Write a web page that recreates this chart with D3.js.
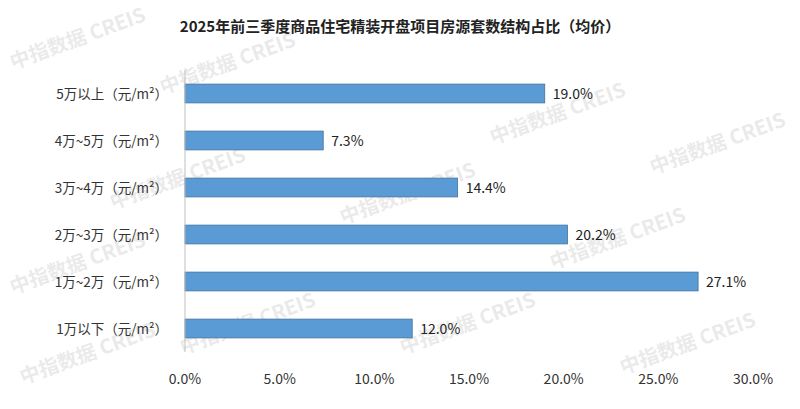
<!DOCTYPE html>
<html><head><meta charset="utf-8">
<style>body{margin:0;background:#fff;font-family:"Noto Sans CJK SC",sans-serif}</style>
</head><body>
<svg id="chart" width="800" height="409"></svg>
<script src="https://d3js.org/d3.v7.min.js"></script>
<script>
const categories = ["5万以上（元/m²）", "4万~5万（元/m²）", "3万~4万（元/m²）", "2万~3万（元/m²）", "1万~2万（元/m²）", "1万以下（元/m²）"]
const values = [19.0, 7.3, 14.4, 20.2, 27.1, 12.0]
const ticks = [0, 5, 10, 15, 20, 25, 30]
const title = "2025年前三季度商品住宅精装开盘项目房源套数结构占比（均价）"

const svg = d3.select('#chart')
const x = d3.scaleLinear().domain([0, 30]).range([185, 753])
const y = d3.scaleBand().domain(categories).range([70, 352]).paddingInner(0.6).paddingOuter(0.3)

svg.append('rect').attr('width', 800).attr('height', 409).attr('fill', '#fff')

// watermarks
const marks = [[80, 45], [230, 70], [560, 120], [720, 150], [180, 185], [410, 200], [620, 245], [80, 270], [250, 330], [470, 330], [690, 350], [90, 360]]
svg.selectAll('.wm').data(marks).enter().append('text')
  .attr('transform', d => `translate(${d[0]},${d[1]}) rotate(-20)`)
  .attr('font-size', 20).attr('font-weight', 'bold').attr('fill', '#000').attr('opacity', 0.08)
  .attr('text-anchor', 'middle').text('中指数据 CREIS')

svg.append('text').attr('x', 400).attr('y', 32).attr('text-anchor', 'middle')
  .attr('font-size', 15).attr('font-weight', 'bold').attr('fill', '#222').text(title)

svg.selectAll('.bar').data(values).enter().append('rect')
  .attr('x', x(0)).attr('y', (d, i) => y(categories[i]))
  .attr('width', d => x(d) - x(0)).attr('height', y.bandwidth())
  .attr('fill', '#5b9bd5').attr('stroke', '#41719c').attr('stroke-width', 0.8)

svg.selectAll('.val').data(values).enter().append('text')
  .attr('x', d => x(d) + 8).attr('y', (d, i) => y(categories[i]) + y.bandwidth() / 2 + 5)
  .attr('font-size', 14).attr('fill', '#222').text(d => d.toFixed(1) + '%')

svg.selectAll('.cat').data(categories).enter().append('text')
  .attr('x', 168).attr('y', d => y(d) + y.bandwidth() / 2 + 5).attr('text-anchor', 'end')
  .attr('font-size', 13.5).attr('fill', '#333').text(d => d)

svg.append('line').attr('x1', x(0)).attr('x2', x(0)).attr('y1', 70).attr('y2', 352)
  .attr('stroke', '#bfbfbf')

svg.selectAll('.tick').data(ticks).enter().append('text')
  .attr('x', d => x(d)).attr('y', 384).attr('text-anchor', 'middle')
  .attr('font-size', 14).attr('fill', '#333').text(d => d.toFixed(1) + '%')
</script>
</body></html>
